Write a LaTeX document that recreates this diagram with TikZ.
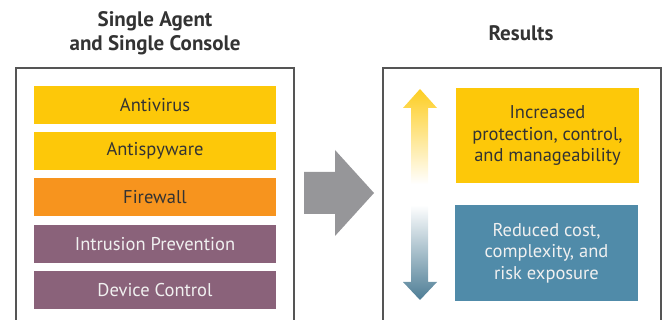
\documentclass[tikz,border=0pt]{standalone}
\usepackage{fontspec}
\setmainfont{PT Sans}
\definecolor{symyellow}{RGB}{253,200,9}
\definecolor{symorange}{RGB}{247,148,30}
\definecolor{sympurple}{RGB}{138,98,122}
\definecolor{symblue}{RGB}{80,139,169}
\definecolor{symgray}{RGB}{150,150,153}
\definecolor{darktext}{RGB}{51,51,51}
\definecolor{lighttext}{RGB}{240,240,240}
\definecolor{frame}{RGB}{85,85,85}
\tikzset{
  bar/.style={inner sep=0pt, minimum width=242pt, minimum height=38pt, font=\fontsize{18.5}{22}\selectfont},
  darkbar/.style={bar, text=darktext},
  lightbar/.style={bar, text=lighttext},
  result/.style={inner sep=0pt, align=center, font=\fontsize{18.5}{21.5}\selectfont},
  title/.style={align=center, text=darktext, font=\bfseries\fontsize{21}{24}\selectfont},
  panel/.style={draw=frame, line width=1.3pt},
}
\begin{document}
\begin{tikzpicture}[x=1pt,y=-1pt]
\useasboundingbox (0,0) rectangle (664,320);
% titles
\node[title] (t1) at (155,33) {Single Agent\\and Single Console};
\node[title] (t2) at (521,33) {Results};
% panels
\draw[panel] (16,330) -- (16,68) -- (294,68) -- (294,330);
\draw[panel] (383,330) -- (383,68) -- (661,68) -- (661,330);
% bars
\node[darkbar, fill=symyellow] (av) at (155,105) {Antivirus};
\node[darkbar, fill=symyellow] (as) at (155,151) {Antispyware};
\node[darkbar, fill=symorange] (fw) at (155,197) {Firewall};
\node[lightbar, fill=sympurple] (ip) at (155,244) {Intrusion Prevention};
\node[lightbar, fill=sympurple] (dc) at (155,290) {Device Control};
% big arrow
\fill[symgray] (304,172) -- (335,172) -- (335,150) -- (374,193) -- (335,236) -- (335,214) -- (304,214) -- cycle;
% results
\node[result, fill=symyellow, text=darktext, minimum width=183pt, minimum height=95pt] (inc) at (547.5,135.5) {Increased\\protection, control,\\and manageability};
\node[result, fill=symblue, text=lighttext, minimum width=183pt, minimum height=96pt] (red) at (546.5,253) {Reduced cost,\\complexity, and\\risk exposure};
% gradient arrows
\shade[top color=symyellow!90, bottom color=white] (420,89) -- (437,108) -- (428,108) -- (428,184) -- (411,184) -- (411,108) -- (403,108) -- cycle;
\shade[top color=white, bottom color=symblue!85!black!95] (411,205) -- (428,205) -- (428,282) -- (437,282) -- (420,300) -- (403,282) -- (411,282) -- cycle;
\end{tikzpicture}
\end{document}
